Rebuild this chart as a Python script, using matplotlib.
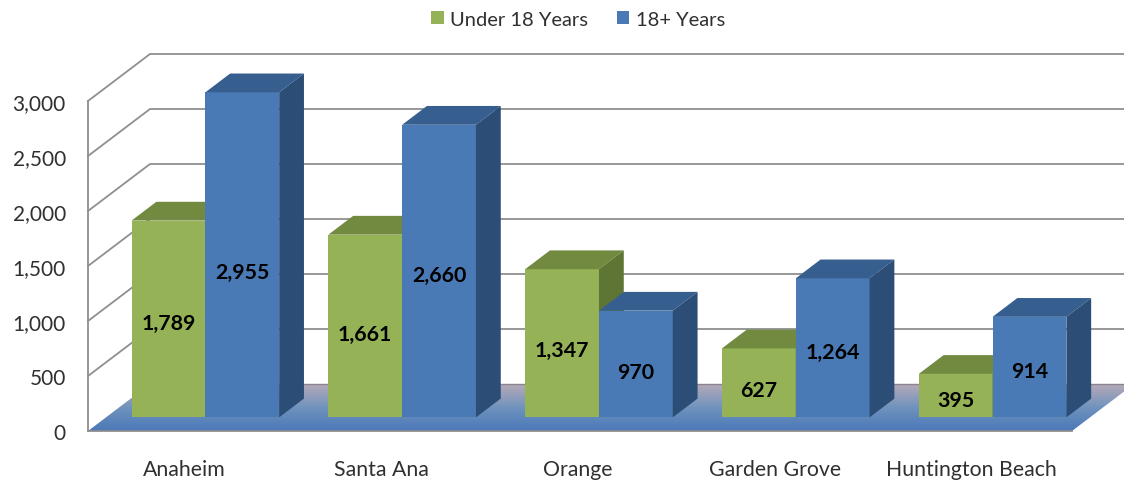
import numpy as np
import matplotlib
matplotlib.use("Agg")
import matplotlib.pyplot as plt
from matplotlib.patches import Polygon, Patch
from matplotlib.colors import LinearSegmentedColormap
from matplotlib.ticker import FuncFormatter

cities = ["Anaheim", "Santa Ana", "Orange", "Garden Grove", "Huntington Beach"]
under_18 = [1789, 1661, 1347, 627, 395]
adults = [2955, 2660, 970, 1264, 914]
y_ticks = [0, 500, 1000, 1500, 2000, 2500, 3000]
series_names = ["Under 18 Years", "18+ Years"]

plt.rcParams["font.family"] = ["Lato", "DejaVu Sans"]
TEXT = "#303030"
GRID = "#8f8f8f"
GREEN = ("#95b356", "#728a40", "#5f7534")
BLUE = ("#4a7ab5", "#365f8f", "#2c4d75")
# extra downward shift (points) of individual value labels
LABEL_SHIFT = {2955: 9, 1661: 3, 1347: 2, 970: 3, 627: 2}

fig = plt.figure(figsize=(11.24, 4.81), dpi=100, facecolor="white")
ax = fig.add_axes([88 / 1124, (481 - 432) / 481, 984 / 1124, 330 / 481])
ax.set_xlim(0, len(cities))
ax.set_ylim(0, 3000)
ax.patch.set_alpha(0)

# oblique depth: the full chart depth in data units
DEPTH_X = 62 / (984 / 5)
DEPTH_Y = 47 / 0.11
XMAX = len(cities) + DEPTH_X


def pt(x, v, d):
    return (x + d * DEPTH_X, v + d * DEPTH_Y)


# gridlines on side and back walls
for v in y_ticks[1:]:
    ax.plot(*zip(pt(0, v, 0), pt(0, v, 1), pt(len(cities), v, 1)),
            color=GRID, lw=1.3, clip_on=False, zorder=1)

# floor with gradient
floor = Polygon([pt(0, 0, 0), pt(len(cities), 0, 0), pt(len(cities), 0, 1), pt(0, 0, 1)],
                closed=True, transform=ax.transData, fc="none", ec="none")
ax.add_patch(floor)
floor.set_clip_on(False)
cmap = LinearSegmentedColormap.from_list("floor", ["#4a78b8", "#6f93bd", "#b5aab8"])
img = ax.imshow(np.linspace(0, 1, 128).reshape(-1, 1), cmap=cmap, origin="lower",
                extent=(0, XMAX, 0, DEPTH_Y), aspect="auto", zorder=2)
img.set_clip_box(fig.bbox)
img.set_clip_path(floor)
ax.set_xlim(0, len(cities))
ax.set_ylim(0, 3000)
ax.plot(*zip(pt(0, 0, 1), pt(len(cities), 0, 1)), color="#8a8490", lw=1.0, clip_on=False, zorder=2)


def bar3d(x0, w, value, cols, z):
    d0, d1 = 0.29, 0.69
    a = dict(closed=True, lw=0, clip_on=False, zorder=z)
    ax.add_patch(Polygon([pt(x0, 0, d0), pt(x0 + w, 0, d0), pt(x0 + w, value, d0), pt(x0, value, d0)], fc=cols[0], **a))
    ax.add_patch(Polygon([pt(x0, value, d0), pt(x0 + w, value, d0), pt(x0 + w, value, d1), pt(x0, value, d1)], fc=cols[1], **a))
    ax.add_patch(Polygon([pt(x0 + w, 0, d0), pt(x0 + w, 0, d1), pt(x0 + w, value, d1), pt(x0 + w, value, d0)], fc=cols[2], **a))
    cx, cy = pt(x0 + w / 2, value / 2, d0)
    ax.annotate(f"{value:,}", (cx, cy), xytext=(0, -3 - LABEL_SHIFT.get(value, 0)), textcoords="offset points",
                ha="center", va="center", fontsize=15.4, fontweight="bold",
                color="black", zorder=z + 0.5, annotation_clip=False)


w = 0.375
for i in range(len(cities)):
    bar3d(i + 0.13, w, under_18[i], GREEN, 3 + i * 2)
    bar3d(i + 0.13 + w, w, adults[i], BLUE, 4 + i * 2)

for s in ["top", "right"]:
    ax.spines[s].set_visible(False)
for s in ["left", "bottom"]:
    ax.spines[s].set_color(GRID)
    ax.spines[s].set_linewidth(1.3)
    ax.spines[s].set_zorder(2.5)

ax.set_yticks(y_ticks)
ax.yaxis.set_major_formatter(FuncFormatter(lambda v, _: f"{int(v):,}"))
ax.set_xticks(np.arange(len(cities)) + 0.5 - 0.01)
ax.set_xticklabels(cities)
ax.tick_params(axis="y", length=0, pad=16, labelsize=15, labelcolor=TEXT)
ax.tick_params(axis="x", length=0, pad=20, labelsize=15.3, labelcolor=TEXT)

handles = [Patch(fc=GREEN[0], ec="none"), Patch(fc=BLUE[0], ec="none")]
fig.legend(handles, series_names, loc="center", bbox_to_anchor=(578 / 1124, 1 - 20.5 / 481),
           ncol=2, frameon=False, fontsize=14.5, labelcolor=TEXT, handlelength=0.62,
           handleheight=0.62, handletextpad=0.3, columnspacing=1.45)

fig.savefig("out.png", dpi=100)
